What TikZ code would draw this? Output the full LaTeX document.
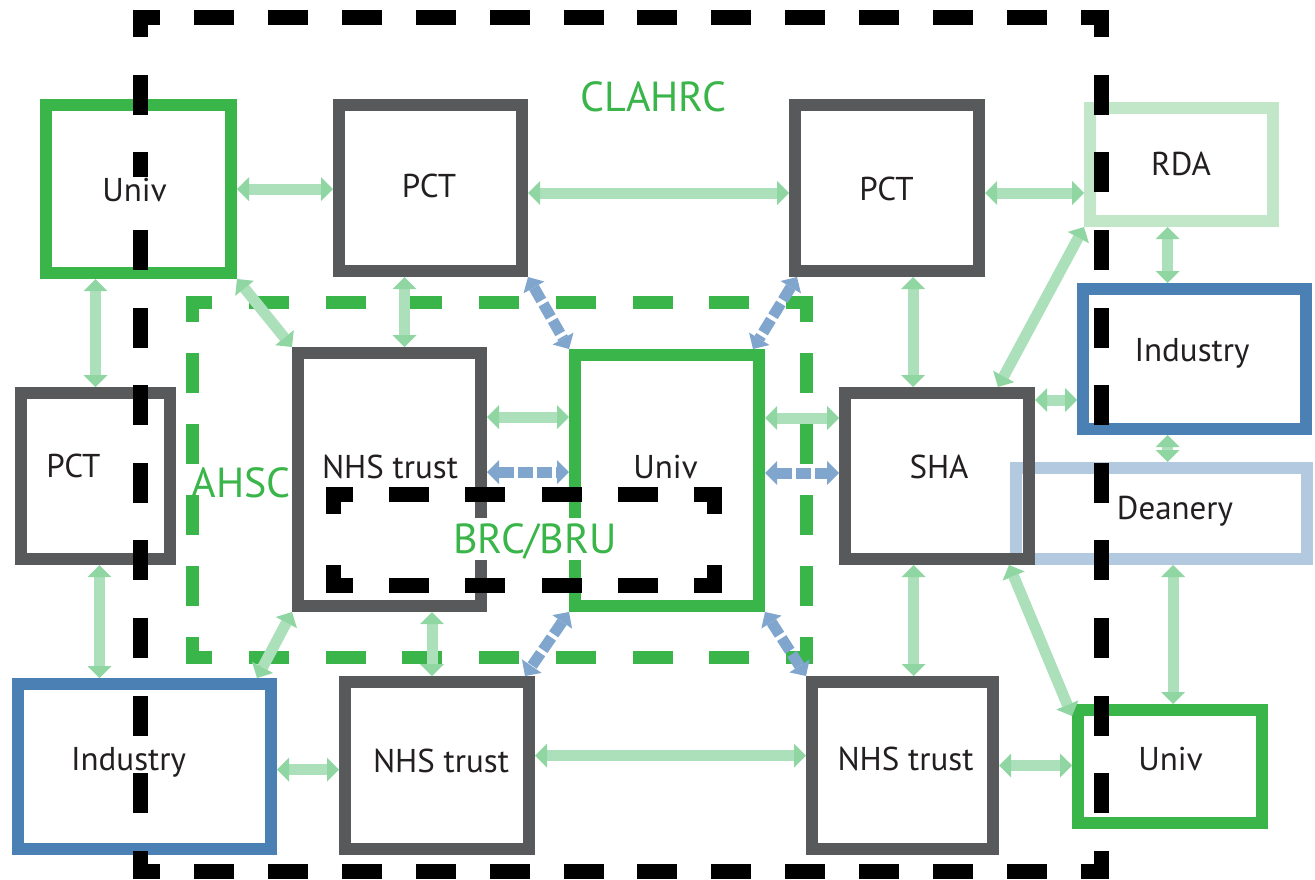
\documentclass[tikz,border=0pt]{standalone}
\usepackage{fontspec}
\setmainfont{PT Sans}
\usetikzlibrary{arrows.meta, calc}
\definecolor{boxgreen}{HTML}{39B54A}
\definecolor{boxgray}{HTML}{58595B}
\definecolor{boxblue}{HTML}{4B80B4}
\definecolor{paleg}{HTML}{C2E7C8}
\definecolor{paleb}{HTML}{B3C9DF}
\definecolor{arrg}{HTML}{ABE0BA}
\definecolor{arrgh}{HTML}{8FD6A2}
\definecolor{arrb}{HTML}{80A6CD}
\definecolor{ink}{HTML}{231F20}

% one side of a dashed frame, dashes lined up with both corners
% #1 colour, #2 width (px), #3,#4 start, #5,#6 end (px)
\newcommand\dashedside[6]{%
  \pgfmathsetmacro\sidelen{0.5*(abs(#5-#3)+abs(#6-#4))}%
  \pgfmathsetmacro\sideper{\sidelen/max(1,round(\sidelen/37.5))}%
  \pgfmathsetmacro\sidelw{#2/2}%
  \pgfmathsetmacro\dashon{20-#2/2}%
  \pgfmathsetmacro\dashoff{\sideper-20+#2/2}%
  \pgfmathsetmacro\dashph{10-#2/4}%
  \draw[draw=#1, line width=\sidelw pt, line cap=rect,
        dash pattern=on \dashon pt off \dashoff pt, dash phase=\dashph pt]
    (#3,#4) -- (#5,#6);}
% whole frame: #1 colour, #2 width, #3,#4 top left, #5,#6 bottom right
\newcommand\dashedframe[6]{%
  \dashedside{#1}{#2}{#3}{#4}{#5}{#4}%
  \dashedside{#1}{#2}{#5}{#4}{#5}{#6}%
  \dashedside{#1}{#2}{#3}{#6}{#5}{#6}%
  \dashedside{#1}{#2}{#3}{#4}{#3}{#6}}

\begin{document}
\begin{tikzpicture}[
  x=0.5pt, y=-0.5pt,
  font=\fontsize{16.5}{19}\selectfont,
  box/.style={draw, line width=6pt, inner sep=0pt},
  kbox/.style={box, draw=boxgray},
  gbox/.style={box, draw=boxgreen},
  bbox/.style={box, draw=boxblue},
  pgbox/.style={box, draw=paleg},
  pbbox/.style={box, draw=paleb},
  lbl/.style={text=ink, fill=white, inner sep=1pt, text height=11.5pt,
              text depth=0pt},
  area/.style={text=boxgreen, font=\fontsize{21}{24}\selectfont,
               text height=14.7pt, text depth=0pt, inner sep=0pt},
  gtip/.tip={Triangle[length=6pt, width=12pt, line width=0pt, color=arrgh]},
  btip/.tip={Triangle[length=6pt, width=12pt, line width=0pt, color=arrb]},
  arr/.style={gtip-gtip, draw=arrg, line width=5.5pt},
  barr/.style={btip-btip, draw=arrb, line width=5.5pt,
               dash pattern=on 7.5pt off 2pt},
]
\useasboundingbox (0,0) rectangle (1315,879);

% ── AHSC ─────────────────────────────────────────────────────────────────────
\dashedframe{boxgreen}{13}{192}{302}{806}{657}

% ── boxes ────────────────────────────────────────────────────────────────────
\node[gbox, minimum width=92.5pt, minimum height=84pt] (univA) at (138.5,189) {};
\node[kbox, minimum width=91.5pt, minimum height=83pt] (pctA) at (430.5,188) {};
\node[kbox, minimum width=92pt, minimum height=83pt] (pctB) at (887,188) {};
\node[pgbox, minimum width=91.5pt, minimum height=56.5pt] (rda) at (1181.5,164.5) {};
\node[bbox, minimum width=111.5pt, minimum height=70pt] (indA) at (1194.5,359) {};
\node[pbbox, minimum width=145.5pt, minimum height=45.5pt] (dean) at (1161.5,513.5) {};
\node[kbox, minimum width=92pt, minimum height=83pt] (sha) at (937,476) {};
\node[gbox, minimum width=92pt, minimum height=125.5pt] (univB) at (667,480.5) {};
\node[kbox, minimum width=91.5pt, minimum height=126.5pt] (nhsA) at (389.5,479.5) {};
\node[kbox, minimum width=74.5pt, minimum height=83pt] (pctC) at (95.5,476) {};
\node[bbox, minimum width=126.5pt, minimum height=82.5pt] (indB) at (144.5,766.5) {};
\node[kbox, minimum width=92pt, minimum height=83.5pt] (nhsB) at (437,765.5) {};
\node[kbox, minimum width=90.5pt, minimum height=83.5pt] (nhsC) at (902.5,765.5) {};
\node[gbox, minimum width=92pt, minimum height=56.5pt] (univC) at (1170,766.5) {};

% ── connectors ───────────────────────────────────────────────────────────────
\draw[arr] (univA.east) -- (univA.east -| pctA.west);
\draw[arr] ($(pctA.east)+(0,5)$) -- ($(pctA.east -| pctB.west)+(0,5)$);
\draw[arr] ($(pctB.east)+(0,5)$) -- ($(pctB.east -| rda.west)+(0,5)$);
\draw[arr] (pctC.north) -- (pctC.north |- univA.south);
\draw[arr] ($(nhsA.north)+(15,0)$) -- ($(nhsA.north |- pctA.south)+(15,0)$);
\draw[arr] ($(sha.north)+(-24,0)$) -- ($(sha.north |- pctB.south)+(-24,0)$);
\draw[arr] ($(rda.south)+(-14,0)$) -- ($(rda.south |- indA.north)+(-14,0)$);
\draw[arr] ($(dean.north)+(6,0)$) -- ($(dean.north |- indA.south)+(6,0)$);
\draw[arr] ($(pctC.south)+(4,0)$) -- ($(pctC.south |- indB.north)+(4,0)$);
\draw[arr] ($(nhsB.north)+(-5,0)$) -- ($(nhsB.north |- nhsA.south)+(-5,0)$);
\draw[arr] ($(nhsC.north)+(11,0)$) -- ($(nhsC.north |- sha.south)+(11,0)$);
\draw[arr] ($(univC.north)+(3,0)$) -- ($(univC.north |- dean.south)+(3,0)$);

\draw[arr] ($(nhsA.north east)+(0,70)$) -- ($(univB.west |- nhsA.north east)+(0,70)$);
\draw[barr] ($(nhsA.north east)+(0,125)$) -- ($(univB.west |- nhsA.north east)+(0,125)$);
\draw[arr] ($(univB.north east)+(0,69)$) -- ($(sha.west |- univB.north east)+(0,69)$);
\draw[barr] ($(univB.north east)+(0,124)$) -- ($(sha.west |- univB.north east)+(0,124)$);
\draw[arr] ($(sha.north east)+(0,13)$) -- ($(indA.west |- sha.north east)+(0,13)$);
\draw[arr] ($(indB.east)+(0,3)$) -- ($(indB.east -| nhsB.west)+(0,3)$);
\draw[arr] ($(nhsB.east)+(0,-10)$) -- ($(nhsB.east -| nhsC.west)+(0,-10)$);
\draw[arr] (nhsC.east) -- (nhsC.east -| univC.west);

\draw[arr] (univA.south east) -- (nhsA.north west);
\draw[arr] (rda.south west) -- ($(sha.north east)+(-37,0)$);
\draw[arr] (nhsA.south west) -- ($(indB.north east)+(-20,0)$);
\draw[arr] ($(sha.south east)+(-26,0)$) -- ($(univC.north west)+(0,12)$);
\draw[barr] (pctA.south east) -- (univB.north west);
\draw[barr] ($(pctB.south west)+(8,0)$) -- ($(univB.north east)+(-12,0)$);
\draw[barr] (univB.south west) -- ($(nhsB.north east)+(-10,0)$);
\draw[barr] (univB.south east) -- (nhsC.north west);

% ── CLAHRC and BRC/BRU ───────────────────────────────────────────────────────
\dashedframe{black}{15}{140}{17}{1101}{871}
\dashedframe{black}{15}{333}{494}{714}{585}

% ── labels ───────────────────────────────────────────────────────────────────
\node[lbl] (univAt) at (134.5,190) {Univ};
\node[lbl] (pctAt) at (429,186) {PCT};
\node[lbl] (pctBt) at (886.5,189) {PCT};
\node[lbl] (rdat) at (1181,163.5) {RDA};
\node[lbl] (indAt) at (1192,350) {Industry};
\node[lbl] (deant) at (1175,507.5) {Deanery};
\node[lbl] (shat) at (939,466.5) {SHA};
\node[lbl] (univBt) at (665.5,467) {Univ};
\node[lbl] (nhsAt) at (390,467) {NHS trust};
\node[lbl] (pctCt) at (73.5,466) {PCT};
\node[lbl] (indBt) at (128.5,758.5) {Industry};
\node[lbl] (nhsBt) at (441,761) {NHS trust};
\node[lbl] (nhsCt) at (905.5,758.5) {NHS trust};
\node[lbl] (univCt) at (1170.5,759) {Univ};

\node[area] (clahrc) at (653,97) {CLAHRC};
\node[area] (ahsc) at (241,483) {AHSC};
\node[area, fill=white, inner sep=3pt] (brc) at (535,539) {BRC/BRU};

\end{tikzpicture}
\end{document}
